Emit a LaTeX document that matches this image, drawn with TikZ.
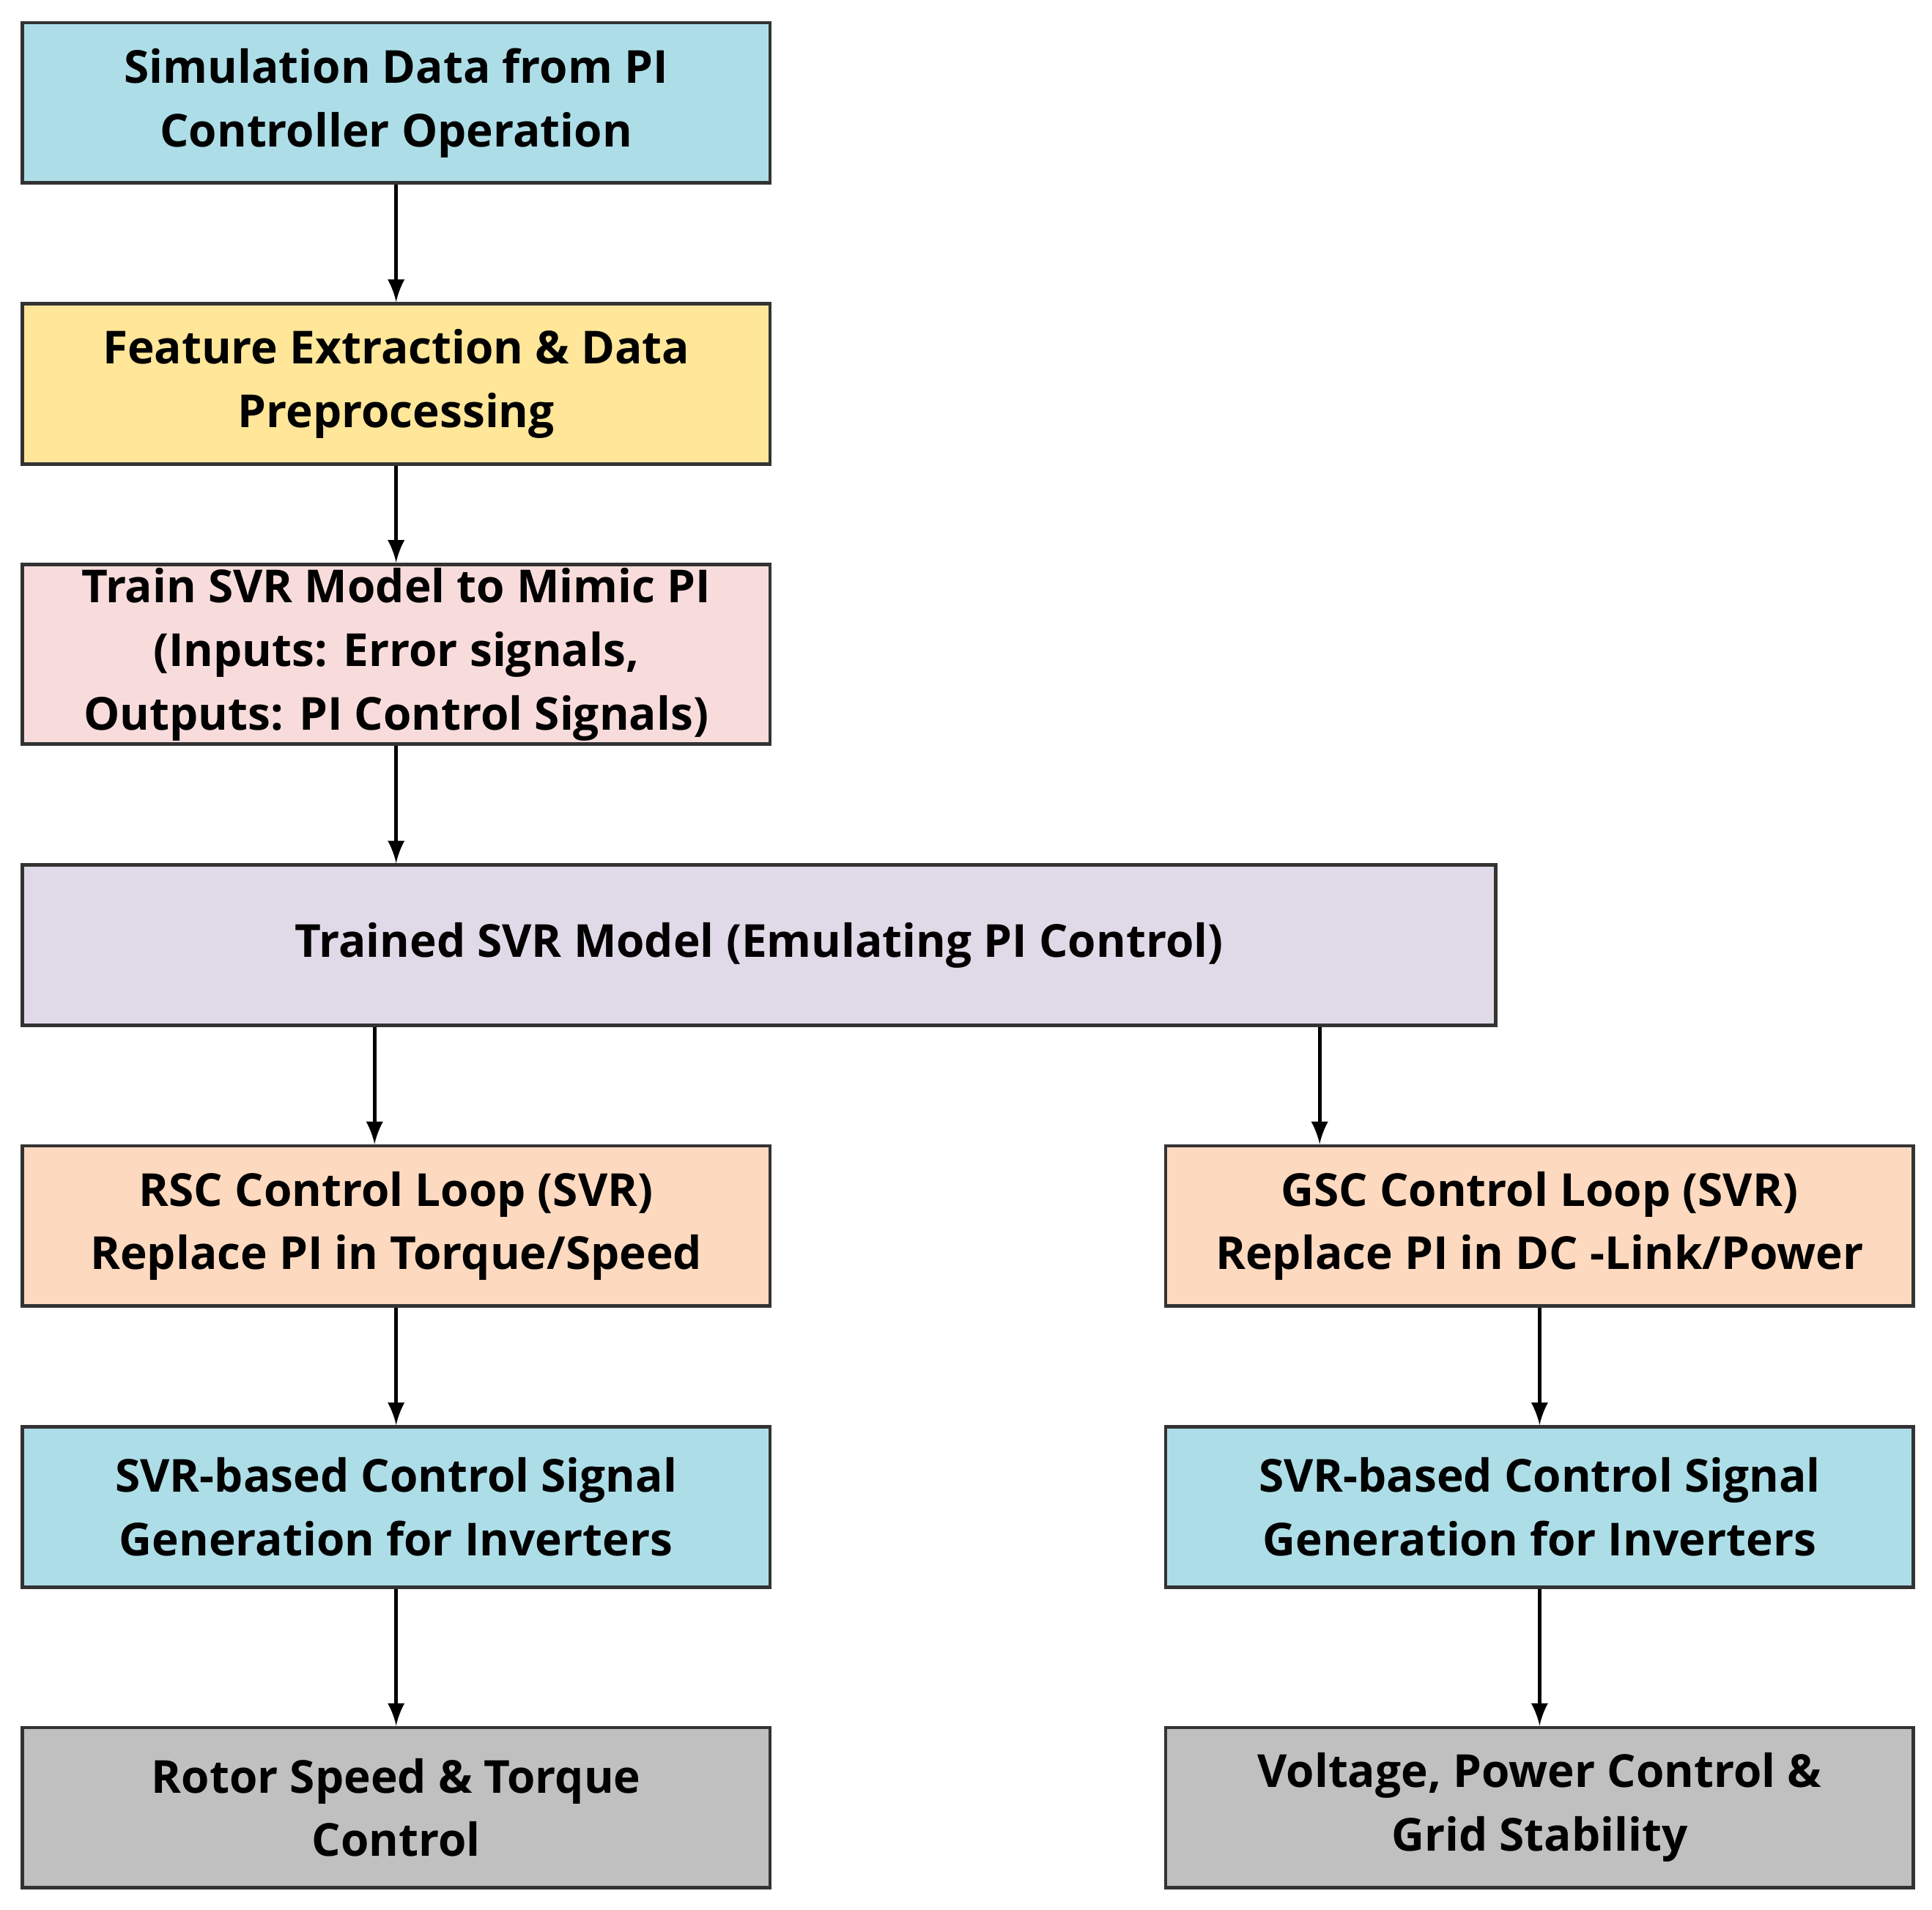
\documentclass[tikz,border=0pt]{standalone}
\usepackage{fontspec}
\setmainfont{Open Sans}
\usetikzlibrary{positioning}
\definecolor{cyanbox}{HTML}{ADDEE8}
\definecolor{yellowbox}{HTML}{FFE699}
\definecolor{pinkbox}{HTML}{F8DCDB}
\definecolor{lavbox}{HTML}{E0DAE8}
\definecolor{peachbox}{HTML}{FDD9BF}
\definecolor{graybox}{HTML}{C0C0C0}
\tikzset{
    block/.style={draw=black!80, line width=0.8pt, minimum width=6.07cm,
        minimum height=1.30cm, align=center, inner sep=0pt,
        font=\bfseries\fontsize{10.5}{14.7}\selectfont},
    flow/.style={->, >=latex, line width=0.8pt}
}
\begin{document}
\begin{tikzpicture}
    \useasboundingbox (0,0) rectangle (15.68,-15.50);
    % left column
        \node[block, fill=cyanbox] (sim) at (3.215,-0.835) {Simulation Data from PI\\Controller Operation};
        \node[block, fill=yellowbox] (feat) at (3.215,-3.115) {Feature Extraction \& Data\\Preprocessing};
        \node[block, fill=pinkbox, minimum height=1.46cm] (train) at (3.215,-5.31) {Train SVR Model to Mimic PI\\(Inputs: Error signals,\\Outputs: PI Control Signals)};
        \node[block, fill=lavbox, minimum width=11.96cm] (svr) at (6.16,-7.67) {Trained SVR Model (Emulating PI Control)};
        \node[block, fill=peachbox] (rsc) at (3.215,-9.95) {RSC Control Loop (SVR)\\Replace PI in Torque/Speed};
        \node[block, fill=cyanbox] (gen1) at (3.215,-12.23) {SVR-based Control Signal\\Generation for Inverters};
        \node[block, fill=graybox] (rotor) at (3.215,-14.67) {Rotor Speed \& Torque\\Control};
    % right column
        \node[block, fill=peachbox] (gsc) at (12.495,-9.95) {GSC Control Loop (SVR)\\Replace PI in DC -Link/Power};
        \node[block, fill=cyanbox] (gen2) at (12.495,-12.23) {SVR-based Control Signal\\Generation for Inverters};
        \node[block, fill=graybox] (grid) at (12.495,-14.67) {Voltage, Power Control \&\\Grid Stability};

    \draw[flow] (sim) -- (feat);
    \draw[flow] (feat) -- (train);
    \draw[flow] (train) -- (train |- svr.north);
    \draw[flow] (svr.south -| 3.04,0) -- (rsc.north -| 3.04,0);
    \draw[flow] (svr.south -| 10.71,0) -- (gsc.north -| 10.71,0);
    \draw[flow] (rsc) -- (gen1);
    \draw[flow] (gen1) -- (rotor);
    \draw[flow] (gsc) -- (gen2);
    \draw[flow] (gen2) -- (grid);
\end{tikzpicture}
\end{document}
